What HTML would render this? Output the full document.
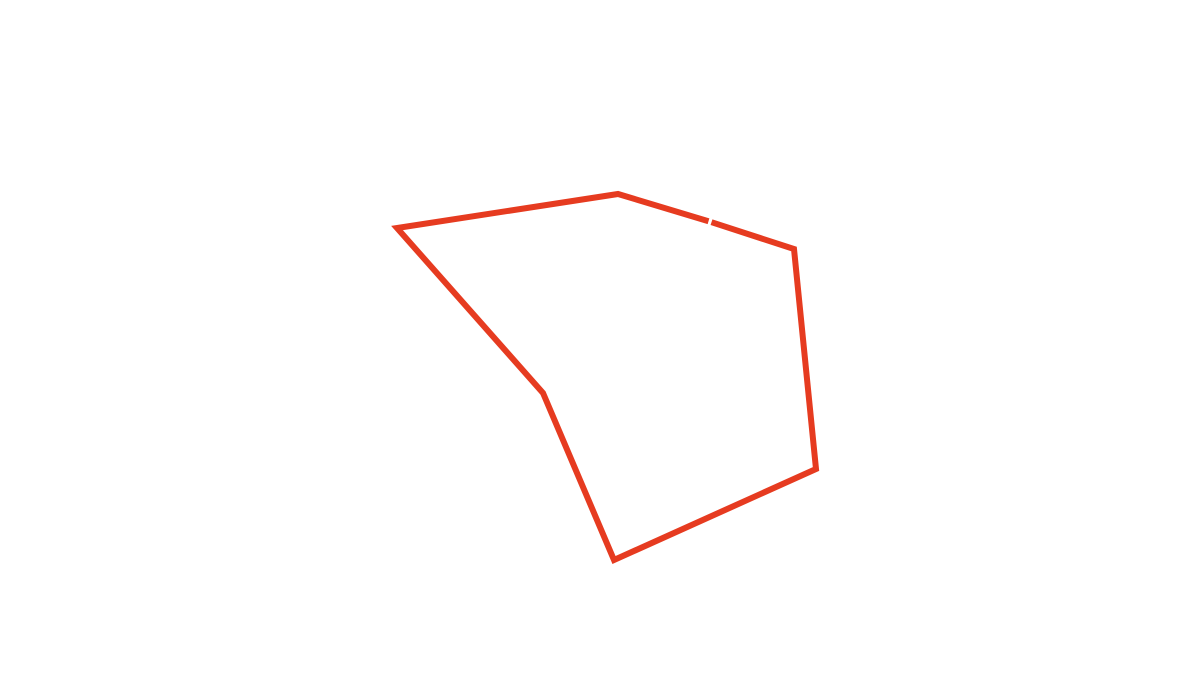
<!DOCTYPE html>
<html><head><style>html,body{margin:0;padding:0;background:#fff;}svg{display:block}</style></head>
<body>
<svg width="1200" height="700" viewBox="0 0 1200 700" xmlns="http://www.w3.org/2000/svg">
<polyline points="711.5,222.2 794,249 816,469 614,560 543,393 397,228 618,194 708.5,221.2" fill="none" stroke="#e63b20" stroke-width="6" stroke-linejoin="miter" stroke-miterlimit="10"/>
</svg>
</body></html>
